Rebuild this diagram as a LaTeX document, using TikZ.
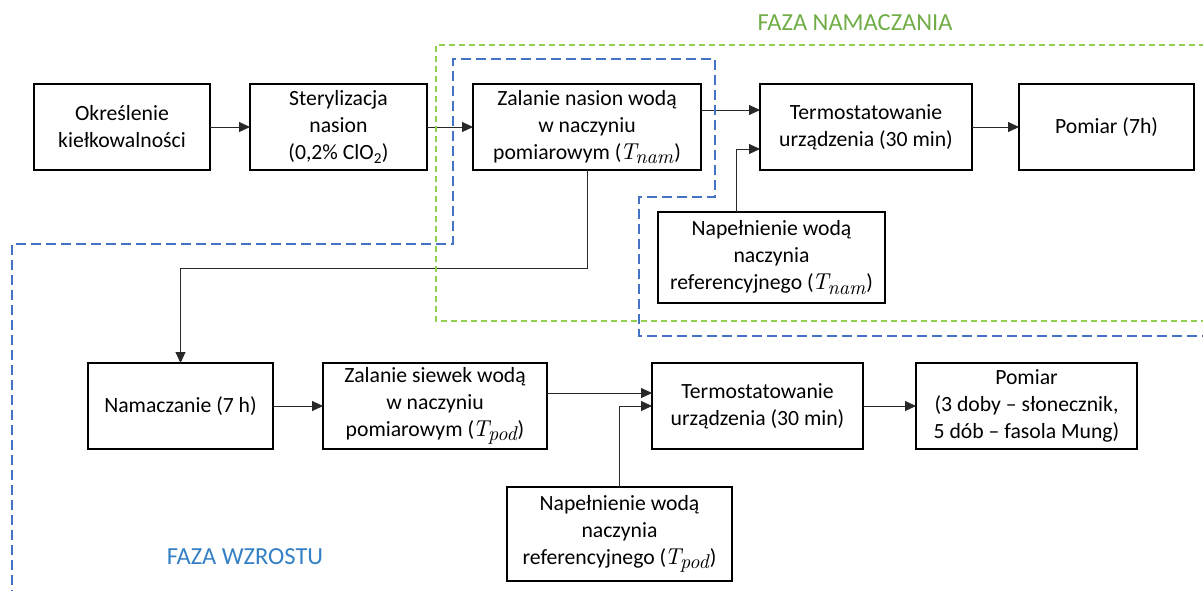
\documentclass[tikz,border=0pt]{standalone}
\usepackage{fontspec}
\setmainfont{Carlito}
\newfontfamily\lmrfam{lmroman10-regular.otf}[ItalicFont=lmroman10-italic.otf]
\newcommand{\Tvar}[1]{{\kern-1.5pt\lmrfam\itshape\fontsize{23}{27}\selectfont T\kern-1pt\raisebox{-4.5pt}{\fontsize{20}{20}\selectfont #1}\kern1pt}}
\usetikzlibrary{arrows.meta}
\definecolor{phasegreen}{RGB}{146,208,80}
\definecolor{phasegreentext}{RGB}{112,173,71}
\definecolor{phaseblue}{RGB}{68,114,196}
\definecolor{phasebluetext}{RGB}{52,128,196}
\definecolor{connc}{RGB}{40,40,40}
\begin{document}
\begin{tikzpicture}[x=1pt,y=-1pt,
  box/.style={draw, line width=1.5pt, inner sep=0pt, outer sep=0pt, align=center,
    font=\fontsize{21.7}{27}\selectfont},
  conn/.style={draw=connc, line width=1pt, -{Triangle[length=11pt,width=10pt]}},
  greendash/.style={draw=phasegreen, line width=1.6pt, dash pattern=on 6pt off 4pt},
  bluedash/.style={draw=phaseblue, line width=2pt, dash pattern=on 10pt off 5pt},
  phaselabel/.style={font=\fontsize{24.5}{28}\selectfont, inner sep=0pt}]
\useasboundingbox (0,0) rectangle (1203,590);
\clip (0,0) rectangle (1203,590);

% row 1
\node[box, minimum width=176pt, minimum height=86pt] (A) at (122,127) {Określenie\\kiełkowalności};
\node[box, minimum width=177pt, minimum height=86pt] (B) at (338.5,127) {Sterylizacja\\nasion\\(0,2\% ClO\textsubscript{2})};
\node[box, minimum width=228pt, minimum height=86pt] (C) at (587,127) {Zalanie nasion wodą\\w naczyniu\\pomiarowym (\Tvar{nam})};
\node[box, minimum width=212pt, minimum height=86pt] (D) at (866,127) {Termostatowanie\\urządzenia (30 min)};
\node[box, minimum width=175pt, minimum height=86pt] (E) at (1106.5,127) {Pomiar (7h)};
\node[box, minimum width=227pt, minimum height=91pt] (F) at (771.5,257.5) {Napełnienie wodą\\naczynia\\referencyjnego (\Tvar{nam})};

% row 2
\node[box, minimum width=185pt, minimum height=86pt] (N) at (180.5,406) {Namaczanie (7 h)};
\node[box, minimum width=224pt, minimum height=86pt] (S) at (435,406) {Zalanie siewek wodą\\w naczyniu\\pomiarowym (\Tvar{pod})};
\node[box, minimum width=211pt, minimum height=86pt] (T) at (757.5,406) {Termostatowanie\\urządzenia (30 min)};
\node[box, minimum width=221pt, minimum height=86pt] (P) at (1026.5,406) {Pomiar\\(3 doby – słonecznik,\\5 dób – fasola Mung)};
\node[box, minimum width=225pt, minimum height=94pt] (G) at (619.5,534) {Napełnienie wodą\\naczynia\\referencyjnego (\Tvar{pod})};

% connectors
\draw[conn] (A) -- (B);
\draw[conn] (B) -- (C);
\draw[conn] ([yshift=17pt]C.east) -- ([yshift=17pt]D.west);
\draw[conn] ([xshift=-35.5pt]F.north) |- ([yshift=-22pt]D.west);
\draw[conn] (D) -- (E);
\draw[conn] (C.south) -- ++(0,98) -| (N.north);
\draw[conn] (N) -- (S);
\draw[conn] ([yshift=13pt]S.east) -- ([yshift=13pt]T.west);
\draw[conn] (G.north) |- (T.west);
\draw[conn] (T) -- (P);

% phase outlines
\draw[greendash] (1215,45) -- (436,45) -- (436,321) -- (1215,321);
\draw[bluedash] (12,600) -- (12,244) -- (453,244) -- (453,59) -- (715,59) -- (715,197) -- (639,197) -- (639,336) -- (1215,336);

% phase labels
\node[phaselabel, text=phasegreentext] (LN) at (855,23) {FAZA NAMACZANIA};
\node[phaselabel, text=phasebluetext] (LW) at (245,557) {FAZA WZROSTU};
\end{tikzpicture}
\end{document}
